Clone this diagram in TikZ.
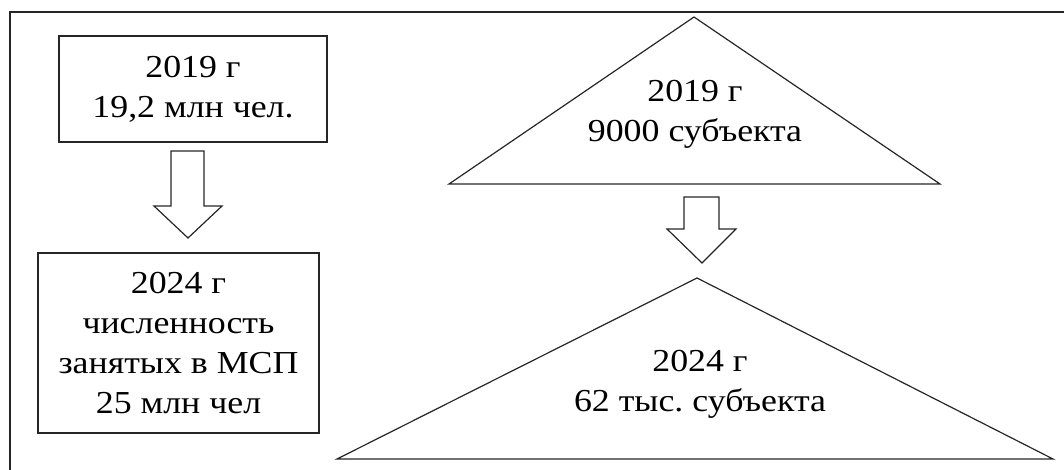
\documentclass[tikz,border=0pt]{standalone}
\usepackage{fontspec}
\setmainfont[FakeStretch=1.12]{Liberation Serif}
\frenchspacing
\begin{document}
\begin{tikzpicture}[x=1pt,y=-1pt,
  line join=miter,
  frameline/.style={line width=1.4pt, draw=black!85},
  shapeline/.style={line width=1.2pt, draw=black!85},
  boxnode/.style={shapeline, rectangle, inner sep=0pt, align=center,
    font=\fontsize{32}{40}\selectfont},
  txt/.style={inner sep=0pt, align=center, font=\fontsize{32}{40}\selectfont}
]
\useasboundingbox (0,0) rectangle (1064,470);
% partial frame
\draw[frameline] (10,470) -- (10,12) -- (1064,12);

% left column
\node[boxnode, minimum width=268pt, minimum height=106pt] (b1) at (193,89)
  {2019 г\\19,2 млн чел.};
\node[boxnode, minimum width=281pt, minimum height=180pt] (b2) at (178.5,343)
  {2024 г\\численность\\занятых в МСП\\25 млн чел};
% block arrow 1
\draw[shapeline] (171,151) -- (204,151) -- (204,206) -- (222,206) -- (188,238)
  -- (154,206) -- (171,206) -- cycle;

% right column
\draw[shapeline] (449,184) -- (694,17) -- (940,184) -- cycle;
\node[txt] (t1) at (695,114) {2019 г\\9000 субъекта};
\draw[shapeline] (684,197) -- (719,197) -- (719,229) -- (736,229) -- (702,263)
  -- (667,229) -- (684,229) -- cycle;
\draw[shapeline] (337,459) -- (697,278) -- (1053,459) -- cycle;
\node[txt] (t2) at (700,384) {2024 г\\62 тыс. субъекта};
\end{tikzpicture}
\end{document}
